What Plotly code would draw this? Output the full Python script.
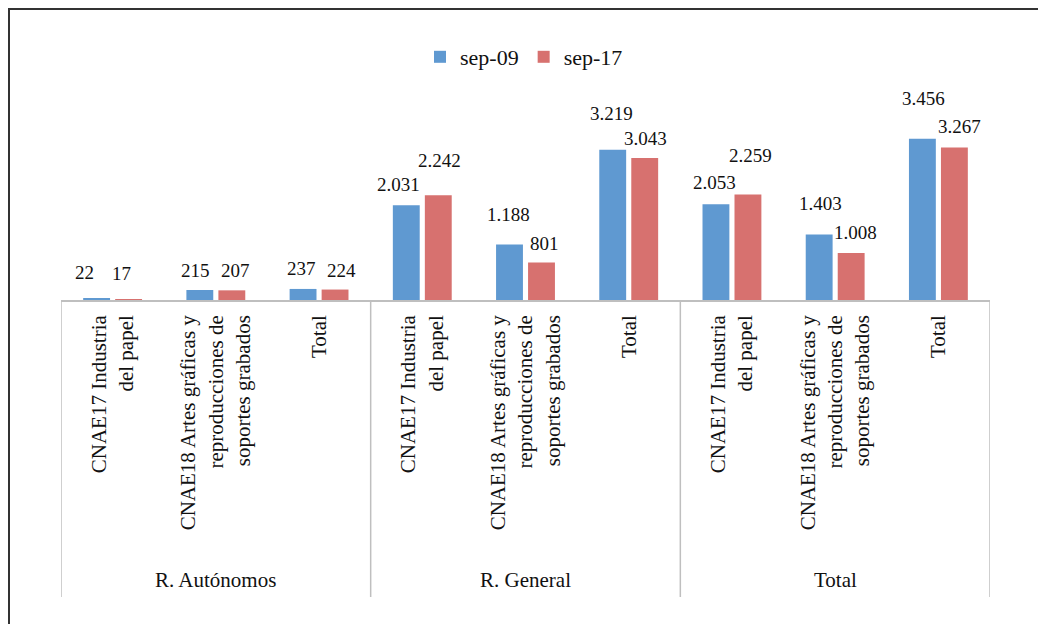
import plotly.graph_objects as go

# ---- data ----
cat_ids = ["RA_17", "RA_18", "RA_T", "RG_17", "RG_18", "RG_T", "T_17", "T_18", "T_T"]
cat_labels = [
    "CNAE17 Industria<br>del papel",
    "CNAE18 Artes gráficas y<br>reproducciones de<br>soportes grabados",
    "Total",
] * 3
groups = ["R. Autónomos", "R. General", "Total"]
sep09 = [22, 215, 237, 2031, 1188, 3219, 2053, 1403, 3456]
sep17 = [17, 207, 224, 2242, 801, 3043, 2259, 1008, 3267]
series_names = ["sep-09", "sep-17"]
colors = ["#5F99D1", "#D7716F"]

# label placement (styling): pixel offsets of each value label from its bar top / centre
label_dy = [[26, 19, 20, 21, 30, 36, 22, 31, 40],
            [26, 20, 19, 35, 19, 19, 39, 20, 21]]
label_dx = [[-12, -4, -2, -8, -1, -1, -1, 1, 1],
            [-7, 4, 6, 1, 3, 1, 3, 4, 5]]

OFF = 8  # page body margin
W, H = 1046 - OFF, 624 - OFF
ML = 61 - OFF
MR = W - (990 - OFF)
MT = 132 - OFF
MB = H - (300 - OFF)
PW, PH = W - ML - MR, H - MT - MB

BARGAP, GROUPGAP = 0.38, 0.16
CAT_PX = PW / len(cat_ids)
SLOT = (1 - BARGAP) / 2 * CAT_PX  # width of one series slot in px


def fmt(v):
    return f"{v:,}".replace(",", ".")


def px_to_paper_x(px):
    return (px - OFF - ML) / PW


def px_to_paper_y(py):
    return (H - MB - (py - OFF)) / PH


FONT = "Liberation Serif"

fig = go.Figure()
for name, vals, col in zip(series_names, [sep09, sep17], colors):
    fig.add_trace(go.Bar(
        name=name, x=cat_ids, y=vals, marker_color=col,
        marker_line_width=0,
    ))

annotations = []
for si, vals in enumerate([sep09, sep17]):
    off = (si - 0.5) * SLOT
    for ci, (cid, v) in enumerate(zip(cat_ids, vals)):
        annotations.append(dict(
            xref="x", yref="y", x=cid, y=v, text=fmt(v), showarrow=False,
            xanchor="center", yanchor="middle",
            xshift=off + label_dx[si][ci], yshift=label_dy[si][ci],
            font=dict(family=FONT, size=19, color="#111")))

shapes = []
# group separators
for i in range(len(groups) + 1):
    xpos = i * 3 - 0.5
    shapes.append(dict(type="line", xref="x", yref="paper", x0=xpos, x1=xpos,
                       y0=0, y1=px_to_paper_y(597),
                       line=dict(color="#BFBFBF", width=1.5)))
# outer frame
shapes.append(dict(type="rect", xref="paper", yref="paper",
                   x0=px_to_paper_x(OFF + 1), x1=px_to_paper_x(1046 + 20),
                   y0=px_to_paper_y(624 + 20), y1=px_to_paper_y(OFF + 1),
                   line=dict(color="#333333", width=2), fillcolor="rgba(0,0,0,0)"))

for gi, g in enumerate(groups):
    annotations.append(dict(xref="x", yref="paper", x=gi * 3 + 1, y=px_to_paper_y(580),
                            text=g, showarrow=False,
                            font=dict(family=FONT, size=21, color="#111"),
                            xanchor="center", yanchor="middle"))

fig.update_layout(
    width=W, height=H,
    margin=dict(l=ML, r=MR, t=MT, b=MB, autoexpand=False),
    paper_bgcolor="white", plot_bgcolor="white",
    barmode="group", bargap=BARGAP, bargroupgap=GROUPGAP,
    showlegend=True,
    legend=dict(orientation="h", x=px_to_paper_x(524), xanchor="center",
                y=px_to_paper_y(57), yanchor="middle",
                font=dict(family=FONT, size=22, color="#111"),
                itemwidth=30, traceorder="normal"),
    xaxis=dict(type="category", tickmode="array", tickvals=cat_ids, ticktext=cat_labels,
               tickangle=-90, tickfont=dict(family=FONT, size=21, color="#111"),
               showline=True, linecolor="#BFBFBF", linewidth=1.5,
               showgrid=False, ticks="", ticklabelstandoff=5,
               range=[-0.5, 8.5]),
    yaxis=dict(visible=False, range=[0, 3600], showgrid=False, zeroline=False),
    shapes=shapes, annotations=annotations,
)

fig.write_html("out.html")
